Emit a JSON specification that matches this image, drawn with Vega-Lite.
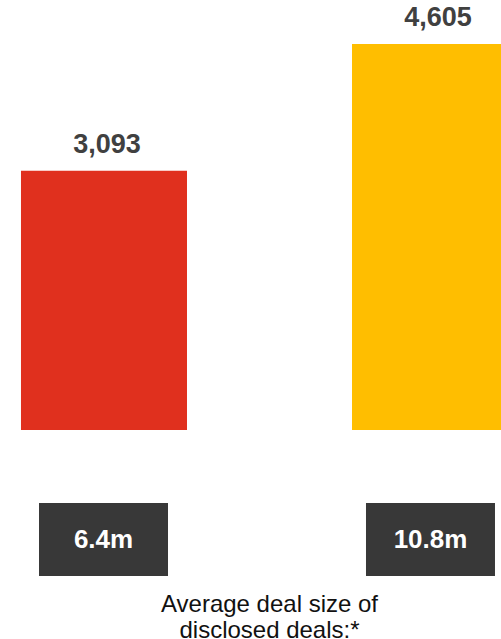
{
  "$schema": "https://vega.github.io/schema/vega-lite/v6.json",
  "padding": 0,
  "bounds": "flush",
  "spacing": 73,
  "background": "white",
  "config": {
    "view": {"stroke": null},
    "font": "Liberation Sans"
  },
  "datasets": {
    "deals": [
      {"group": "A", "deals": 3093, "avg": "6.4m"},
      {"group": "B", "deals": 4605, "avg": "10.8m"}
    ]
  },
  "vconcat": [
    {
      "width": 501,
      "height": 430,
      "data": {"name": "deals"},
      "encoding": {
        "x": {
          "field": "group",
          "type": "nominal",
          "axis": null,
          "scale": {"range": [0, 539], "paddingInner": 0.4985, "paddingOuter": 0.0634}
        },
        "y": {
          "field": "deals",
          "type": "quantitative",
          "axis": null,
          "scale": {"domain": [0, 5130], "nice": false}
        }
      },
      "layer": [
        {
          "mark": {"type": "bar", "clip": true},
          "encoding": {
            "color": {
              "field": "group",
              "type": "nominal",
              "legend": null,
              "scale": {"range": ["#E0301E", "#FFBE00"]}
            }
          }
        },
        {
          "mark": {
            "type": "text",
            "baseline": "alphabetic",
            "dy": -18,
            "dx": 3,
            "fontSize": 27,
            "fontWeight": "bold",
            "color": "#404040"
          },
          "encoding": {
            "text": {"field": "deals", "type": "quantitative", "format": ","}
          }
        }
      ]
    },
    {
      "width": 501,
      "height": 73,
      "data": {"name": "deals"},
      "encoding": {
        "x": {
          "field": "group",
          "type": "nominal",
          "scale": {"range": [0, 534], "paddingInner": 0.6055, "paddingOuter": 0.1193},
          "axis": {
            "title": ["Average deal size of", "disclosed deals:*"],
            "labels": false,
            "ticks": false,
            "domain": false,
            "grid": false,
            "titleFontSize": 24,
            "titleFontWeight": "normal",
            "titleColor": "#111111",
            "titleLineHeight": 26,
            "titlePadding": 16,
            "titleX": 269,
            "titleBaseline": "top"
          }
        }
      },
      "layer": [
        {
          "mark": {"type": "rect", "color": "#383838"}
        },
        {
          "mark": {
            "type": "text",
            "fontSize": 26,
            "fontWeight": "bold",
            "color": "white",
            "baseline": "middle"
          },
          "encoding": {
            "text": {"field": "avg", "type": "nominal"}
          }
        }
      ]
    }
  ]
}
